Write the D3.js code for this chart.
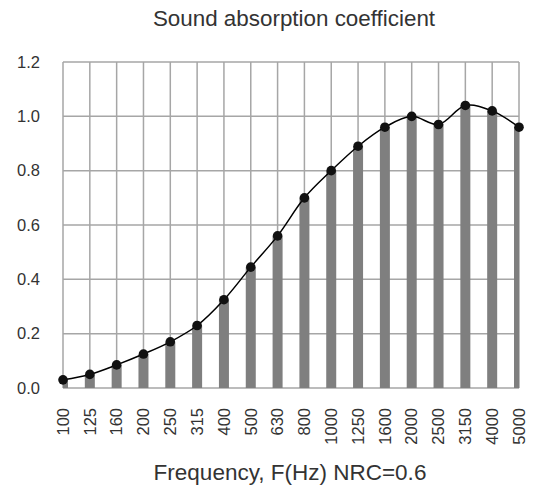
<!DOCTYPE html>
<html lang="en-US">
<head>
    <meta charset="utf-8">
    <script src="https://d3js.org/d3.v7.min.js"></script>
</head>
<body style="margin:0;background:#fff">
<style>
    svg text { font-family: "Liberation Sans", Arial, sans-serif; fill: #333; }
</style>
<svg width="542" height="491"></svg>

<script>
// frequency bands (Hz) and absorption coefficients
var freqs = ["100", "125", "160", "200", "250", "315", "400", "500", "630", "800",
    "1000", "1250", "1600", "2000", "2500", "3150", "4000", "5000"];
var alpha = [0.03, 0.05, 0.085, 0.125, 0.17, 0.23, 0.325, 0.445, 0.56, 0.70,
    0.80, 0.89, 0.96, 1.00, 0.97, 1.04, 1.02, 0.96];
var yTicks = [0, 0.2, 0.4, 0.6, 0.8, 1.0, 1.2];

var svg = d3.select("svg");
var margin = {left: 63, right: 23, top: 62, bottom: 103};
var width = 542 - margin.left - margin.right;
var height = 491 - margin.top - margin.bottom;

var x = d3.scalePoint().domain(freqs).range([0, width]);
var y = d3.scaleLinear().domain([0, 1.2]).range([height, 0]);

var g = svg.append("g").attr("transform", `translate(${margin.left},${margin.top})`);

g.append("clipPath").attr("id", "plot")
    .append("rect").attr("width", width).attr("height", height);

// grid
g.append("g").selectAll("line.h").data(yTicks).enter().append("line")
    .attr("x1", 0).attr("x2", width)
    .attr("y1", d => y(d)).attr("y2", d => y(d))
    .attr("stroke", "#a6a6a6").attr("stroke-width", 1.5);
g.append("g").selectAll("line.v").data(freqs).enter().append("line")
    .attr("x1", d => x(d)).attr("x2", d => x(d))
    .attr("y1", 0).attr("y2", height)
    .attr("stroke", "#a6a6a6").attr("stroke-width", 1.5);

// bars
var barW = 10;
g.append("g").attr("clip-path", "url(#plot)")
    .selectAll("rect").data(freqs).enter().append("rect")
    .attr("x", d => x(d) - barW / 2)
    .attr("width", barW)
    .attr("y", (d, i) => y(alpha[i]))
    .attr("height", (d, i) => height - y(alpha[i]))
    .attr("fill", "#7f7f7f");

// smoothed line + markers
var line = d3.line()
    .x((d, i) => x(freqs[i]))
    .y(d => y(d))
    .curve(d3.curveCatmullRom.alpha(0.5));
g.append("path").datum(alpha)
    .attr("d", line)
    .attr("fill", "none")
    .attr("stroke", "#000")
    .attr("stroke-width", 1.5);
g.append("g").selectAll("circle").data(alpha).enter().append("circle")
    .attr("cx", (d, i) => x(freqs[i]))
    .attr("cy", d => y(d))
    .attr("r", 4.8)
    .attr("fill", "#111");

// axis labels
g.append("g").selectAll("text").data(yTicks).enter().append("text")
    .attr("x", -23).attr("y", d => y(d)).attr("dy", "0.35em")
    .attr("text-anchor", "end")
    .style("font-size", "16.5px")
    .text(d => d.toFixed(1));

g.append("g").selectAll("text").data(freqs).enter().append("text")
    .attr("transform", d => `translate(${x(d)},${height + 20}) rotate(-90)`)
    .attr("dy", "0.35em")
    .attr("text-anchor", "end")
    .style("font-size", "16.5px")
    .text(d => d);

svg.append("text")
    .attr("x", 294).attr("y", 26)
    .attr("text-anchor", "middle")
    .style("font-size", "22.4px")
    .text("Sound absorption coefficient");

svg.append("text")
    .attr("x", 290).attr("y", 480)
    .attr("text-anchor", "middle")
    .style("font-size", "22.5px")
    .text("Frequency, F(Hz) NRC=0.6");
</script>
</body>
</html>
